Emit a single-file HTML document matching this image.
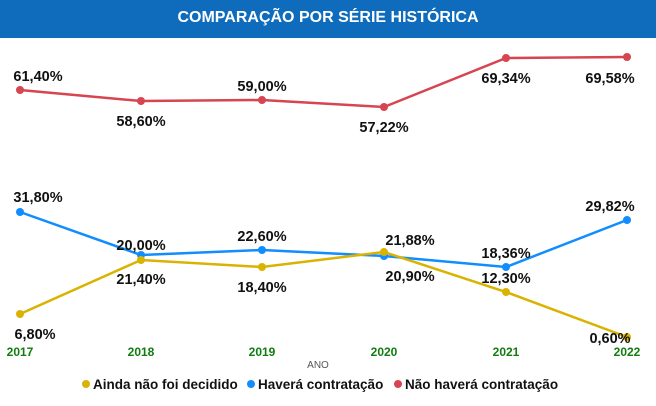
<!DOCTYPE html>
<html><head><meta charset="utf-8"><style>
body{margin:0;width:656px;height:406px;background:#fff;overflow:hidden;font-family:"Liberation Sans",sans-serif}
.t{position:absolute;left:0;top:0;width:656px;height:38px;background:#0f6cbd;color:#fff;font-weight:bold;font-size:16px;text-align:center;line-height:36px}
</style></head><body>
<div class="t">COMPARAÇÃO POR SÉRIE HISTÓRICA</div>
<svg width="656" height="406" style="position:absolute;left:0;top:0" font-family="Liberation Sans, sans-serif">
<g fill="none" stroke-width="2.5">
<polyline stroke="#d64550" points="20,90 141,101 262,100 384,107 506,58 627,57"/>
<polyline stroke="#118dff" points="20,212 141,255 262,250 384,256 506,267 627,220"/>
<polyline stroke="#d9b300" points="20,314 141,260 262,267 384,252 506,292 627,337"/>
</g>
<g fill="#d64550"><circle cx="20" cy="90" r="4"/><circle cx="141" cy="101" r="4"/><circle cx="262" cy="100" r="4"/><circle cx="384" cy="107" r="4"/><circle cx="506" cy="58" r="4"/><circle cx="627" cy="57" r="4"/></g>
<g fill="#118dff"><circle cx="20" cy="212" r="4"/><circle cx="141" cy="255" r="4"/><circle cx="262" cy="250" r="4"/><circle cx="384" cy="256" r="4"/><circle cx="506" cy="267" r="4"/><circle cx="627" cy="220" r="4"/></g>
<g fill="#d9b300"><circle cx="20" cy="314" r="4"/><circle cx="141" cy="260" r="4"/><circle cx="262" cy="267" r="4"/><circle cx="384" cy="252" r="4"/><circle cx="506" cy="292" r="4"/><circle cx="627" cy="337" r="4"/></g>
<g font-size="14.5" font-weight="bold" fill="#111" text-anchor="middle">
<text x="38" y="81">61,40%</text><text x="141" y="126">58,60%</text><text x="262" y="91">59,00%</text><text x="384" y="132">57,22%</text><text x="506" y="83">69,34%</text><text x="610" y="83">69,58%</text>
<text x="38" y="202">31,80%</text><text x="141" y="250">20,00%</text><text x="262" y="241">22,60%</text><text x="410" y="245">21,88%</text><text x="506" y="258">18,36%</text><text x="610" y="211">29,82%</text>
<text x="35" y="339">6,80%</text><text x="141" y="284">21,40%</text><text x="262" y="292">18,40%</text><text x="410" y="281">20,90%</text><text x="506" y="283">12,30%</text><text x="610" y="343">0,60%</text>
</g>
<g font-size="12" font-weight="bold" fill="#107c10" text-anchor="middle">
<text x="20" y="356">2017</text><text x="141" y="356">2018</text><text x="262" y="356">2019</text><text x="384" y="356">2020</text><text x="506" y="356">2021</text><text x="627" y="356">2022</text>
</g>
<text x="318" y="368" font-size="10" fill="#555" text-anchor="middle">ANO</text>
<g font-size="13.5" font-weight="bold" fill="#111">
<circle cx="86" cy="384" r="4" fill="#d9b300"/><text x="93" y="389">Ainda não foi decidido</text>
<circle cx="251" cy="384" r="4" fill="#118dff"/><text x="258" y="389">Haverá contratação</text>
<circle cx="398" cy="384" r="4" fill="#d64550"/><text x="405" y="389">Não haverá contratação</text>
</g>
</svg>
</body></html>
